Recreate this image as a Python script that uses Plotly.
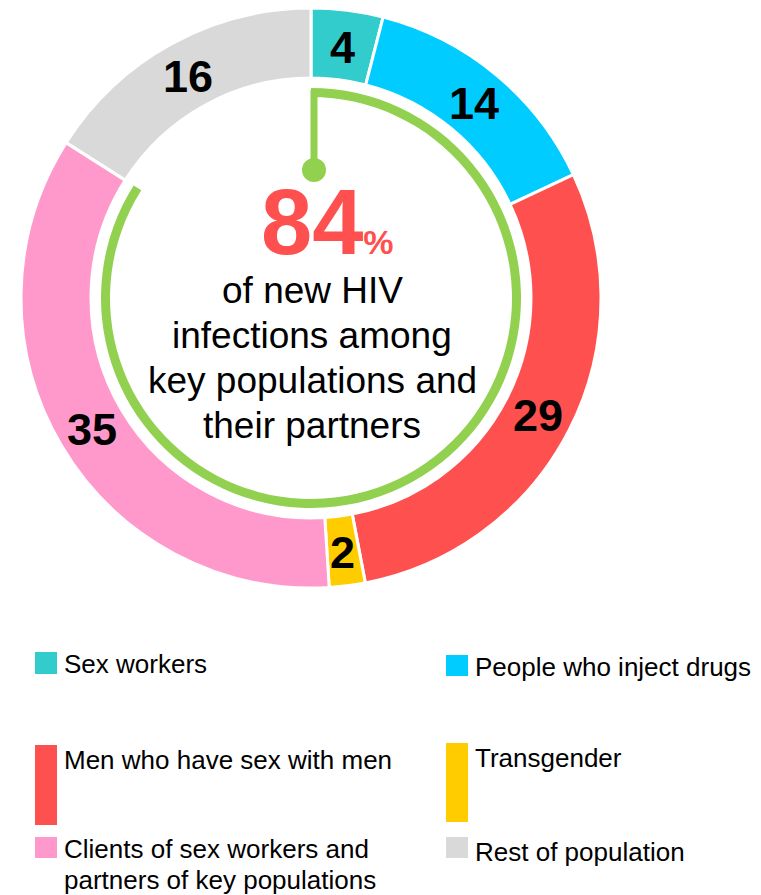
import math
import plotly.graph_objects as go

# ---------------- data ----------------
labels = ["Sex workers", "People who inject drugs", "Men who have sex with men",
          "Transgender", "Clients of sex workers and partners of key populations",
          "Rest of population"]
values = [4, 14, 29, 2, 35, 16]
colors = ["#33CCCC", "#00CCFF", "#FF5050", "#FFCC00", "#FF99CC", "#D9D9D9"]
key_share = 84
center_lines = ["of new HIV", "infections among", "key populations and", "their partners"]
legend_lines = [["Sex workers"], ["People who inject drugs"], ["Men who have sex with men"],
                ["Transgender"], ["Clients of sex workers and", "partners of key populations"],
                ["Rest of population"]]

# ---------------- layout helpers ----------------
W, H = 761, 895
OFF = 8                         # page body margin
FONT = "Liberation Sans, Arial, sans-serif"
GREEN = "#92D050"
cx, cy, R = 311, 298, 290      # donut center / outer radius (px)
R_in = 220
R_lab = 255
R_ring, ring_w = 210, 9        # green progress ring


def px(x):
    return (x - OFF) / W


def py(y):
    return 1 - (y - OFF) / H


def dom(r):
    return dict(x=[px(cx - r), px(cx + r)], y=[py(cy + r), py(cy - r)])


fig = go.Figure()

fig.add_trace(go.Pie(
    labels=labels, values=values, sort=False, direction="clockwise", rotation=0,
    hole=R_in / R, domain=dom(R),
    marker=dict(colors=colors, line=dict(color="white", width=3)),
    textinfo="none", hoverinfo="label+value", showlegend=False,
))

fig.add_trace(go.Pie(
    values=[key_share, 100 - key_share], sort=False, direction="clockwise", rotation=0,
    hole=(R_ring - ring_w) / R_ring, domain=dom(R_ring),
    marker=dict(colors=[GREEN, "rgba(0,0,0,0)"], line=dict(width=0)),
    textinfo="none", hoverinfo="skip", showlegend=False,
))

shapes = []
annotations = []

# slice value labels at mid-angle of each slice
total = sum(values)
cum = 0
for v in values:
    mid = (cum + v / 2) / total * 2 * math.pi
    cum += v
    lx_ = cx + R_lab * math.sin(mid)
    ly_ = cy - R_lab * math.cos(mid)
    annotations.append(dict(
        xref="paper", yref="paper", x=px(lx_), y=py(ly_ + 2), xanchor="center", yanchor="middle",
        text=f"<b>{v}</b>", showarrow=False, font=dict(family=FONT, size=45, color="black")))

# pointer line + dot
lx = cx + 3
shapes.append(dict(type="line", xref="paper", yref="paper",
                   x0=px(lx), x1=px(lx), y0=py(cy - R_ring + 2), y1=py(170),
                   line=dict(color=GREEN, width=7)))
dr = 12
shapes.append(dict(type="circle", xref="paper", yref="paper",
                   x0=px(lx - dr), x1=px(lx + dr), y0=py(170 + dr), y1=py(170 - dr),
                   fillcolor=GREEN, line=dict(width=0)))

annotations.append(dict(
    xref="paper", yref="paper", x=px(327), y=py(222), xanchor="center", yanchor="middle",
    text=f"<b>{key_share}</b><b><span style='font-size:34px'>%</span></b>",
    showarrow=False, font=dict(family=FONT, size=92, color="#FF5050")))
for i, line in enumerate(center_lines):
    annotations.append(dict(
        xref="paper", yref="paper", x=px(cx + 1), y=py(290 + 45 * i),
        xanchor="center", yanchor="middle", text=line, showarrow=False,
        font=dict(family=FONT, size=37, color="black")))

# custom legend
leg_pos = [  # (x_rect, y_top, y_bottom, text_y)
    (35, 652, 674, 664),
    (446, 655, 676, 667),
    (35, 745, 825, 760),
    (446, 743, 822, 758),
    (35, 837, 858, 849),
    (446, 837, 858, 852),
]
for (xr, yt, yb, ty), col, lines in zip(leg_pos, colors, legend_lines):
    shapes.append(dict(type="rect", xref="paper", yref="paper",
                       x0=px(xr), x1=px(xr + 22), y0=py(yb), y1=py(yt),
                       fillcolor=col, line=dict(width=0)))
    for j, t in enumerate(lines):
        annotations.append(dict(
            xref="paper", yref="paper", x=px(xr + 27), y=py(ty + 31 * j),
            xanchor="left", yanchor="middle", text=t, showarrow=False,
            font=dict(family=FONT, size=26, color="black")))

fig.update_layout(
    width=W, height=H, margin=dict(l=0, r=0, t=0, b=0),
    paper_bgcolor="white", plot_bgcolor="white",
    shapes=shapes, annotations=annotations,
)

fig.write_html("out.html")
